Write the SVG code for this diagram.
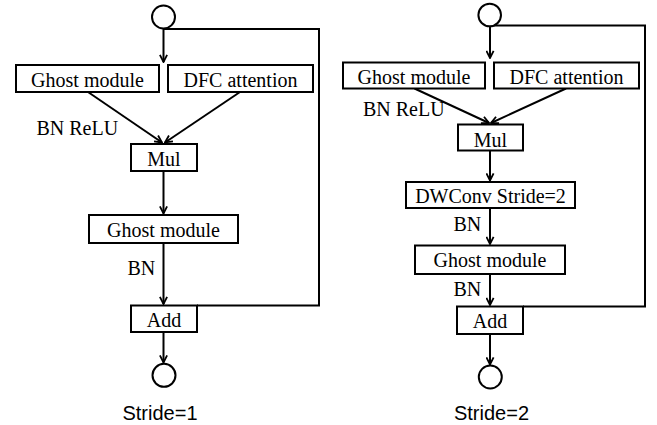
<svg xmlns="http://www.w3.org/2000/svg" width="657" height="425" viewBox="0 0 657 425">
<style>
.box{fill:#fff;stroke:#000;stroke-width:2}
.c{fill:#fff;stroke:#000;stroke-width:2}
.t{font-family:"Liberation Serif","Times New Roman",serif;font-size:20px;fill:#000}
.m{text-anchor:middle}
.s{font-family:"Liberation Sans",Arial,sans-serif;font-size:20px;fill:#000;text-anchor:middle}
.ln{fill:none;stroke:#000;stroke-width:2}
.ar{fill:none;stroke:#000;stroke-width:2;marker-end:url(#ah)}
</style>
<defs>
<marker id="ah" viewBox="0 0 10 10" refX="9" refY="5" markerWidth="9" markerHeight="9" markerUnits="userSpaceOnUse" orient="auto">
<path d="M1,1 L9,5 L1,9" fill="none" stroke="#000" stroke-width="2"/>
</marker>
</defs>
<rect width="657" height="425" fill="#fff"/>
<g id="connectors">
<path class="ln" d="M164,29 H319 V305.5 H197"/>
<path class="ar" d="M163.5,28.5 V62"/>
<path class="ar" d="M88,92 L162,142.5"/>
<path class="ar" d="M240,92 L165,142.5"/>
<path class="ar" d="M163.5,171 V213.5"/>
<path class="ar" d="M163.5,243 V304"/>
<path class="ar" d="M163.5,332 V362.5"/>
<path class="ln" d="M490,25.5 H645 V306.5 H523"/>
<path class="ar" d="M490,26.5 V58"/>
<path class="ar" d="M414.5,88.5 L489,123"/>
<path class="ar" d="M566,88.5 L491,123"/>
<path class="ar" d="M490,150.5 V180.5"/>
<path class="ar" d="M490,208 V244"/>
<path class="ar" d="M490,274 V305"/>
<path class="ar" d="M490,334 V364.5"/>
</g>
<g id="l-in"><circle class="c" cx="163.5" cy="17" r="11.5"/></g>
<g id="l-ghost1"><rect class="box" x="16" y="65" width="143" height="27"/><text class="t m" x="87.5" y="86.5">Ghost module</text></g>
<g id="l-dfc"><rect class="box" x="168" y="65" width="145" height="27"/><text class="t m" x="240.5" y="86.5">DFC attention</text></g>
<g id="l-bnrelu"><text class="t" x="36.5" y="135">BN ReLU</text></g>
<g id="l-mul"><rect class="box" x="131" y="144" width="66" height="27"/><text class="t m" x="164" y="165.5">Mul</text></g>
<g id="l-ghost2"><rect class="box" x="89" y="215" width="149" height="28"/><text class="t m" x="163.5" y="237">Ghost module</text></g>
<g id="l-bn"><text class="t" x="127.5" y="275">BN</text></g>
<g id="l-add"><rect class="box" x="131" y="305.5" width="66" height="26.5"/><text class="t m" x="164" y="327">Add</text></g>
<g id="l-out"><circle class="c" cx="164" cy="375.3" r="11.5"/></g>
<g id="l-label"><text class="s" x="160" y="420">Stride=1</text></g>
<g id="r-in"><circle class="c" cx="489.7" cy="15" r="11.3"/></g>
<g id="r-ghost1"><rect class="box" x="343" y="62.5" width="142" height="26"/><text class="t m" x="414" y="83.5">Ghost module</text></g>
<g id="r-dfc"><rect class="box" x="494" y="62.5" width="145" height="26"/><text class="t m" x="566.5" y="83.5">DFC attention</text></g>
<g id="r-bnrelu"><text class="t" x="363" y="116">BN ReLU</text></g>
<g id="r-mul"><rect class="box" x="458" y="124.5" width="65" height="26"/><text class="t m" x="490.5" y="146.5">Mul</text></g>
<g id="r-dw"><rect class="box" x="406" y="182" width="169" height="26"/><text class="t m" x="490.5" y="203">DWConv Stride=2</text></g>
<g id="r-bn1"><text class="t" x="453.5" y="231">BN</text></g>
<g id="r-ghost2"><rect class="box" x="415" y="245.5" width="150" height="28.5"/><text class="t m" x="490" y="267">Ghost module</text></g>
<g id="r-bn2"><text class="t" x="453.5" y="296">BN</text></g>
<g id="r-add"><rect class="box" x="457" y="306.5" width="66" height="27.5"/><text class="t m" x="490" y="327.5">Add</text></g>
<g id="r-out"><circle class="c" cx="490.3" cy="377" r="11.5"/></g>
<g id="r-label"><text class="s" x="491.5" y="420">Stride=2</text></g>
</svg>
